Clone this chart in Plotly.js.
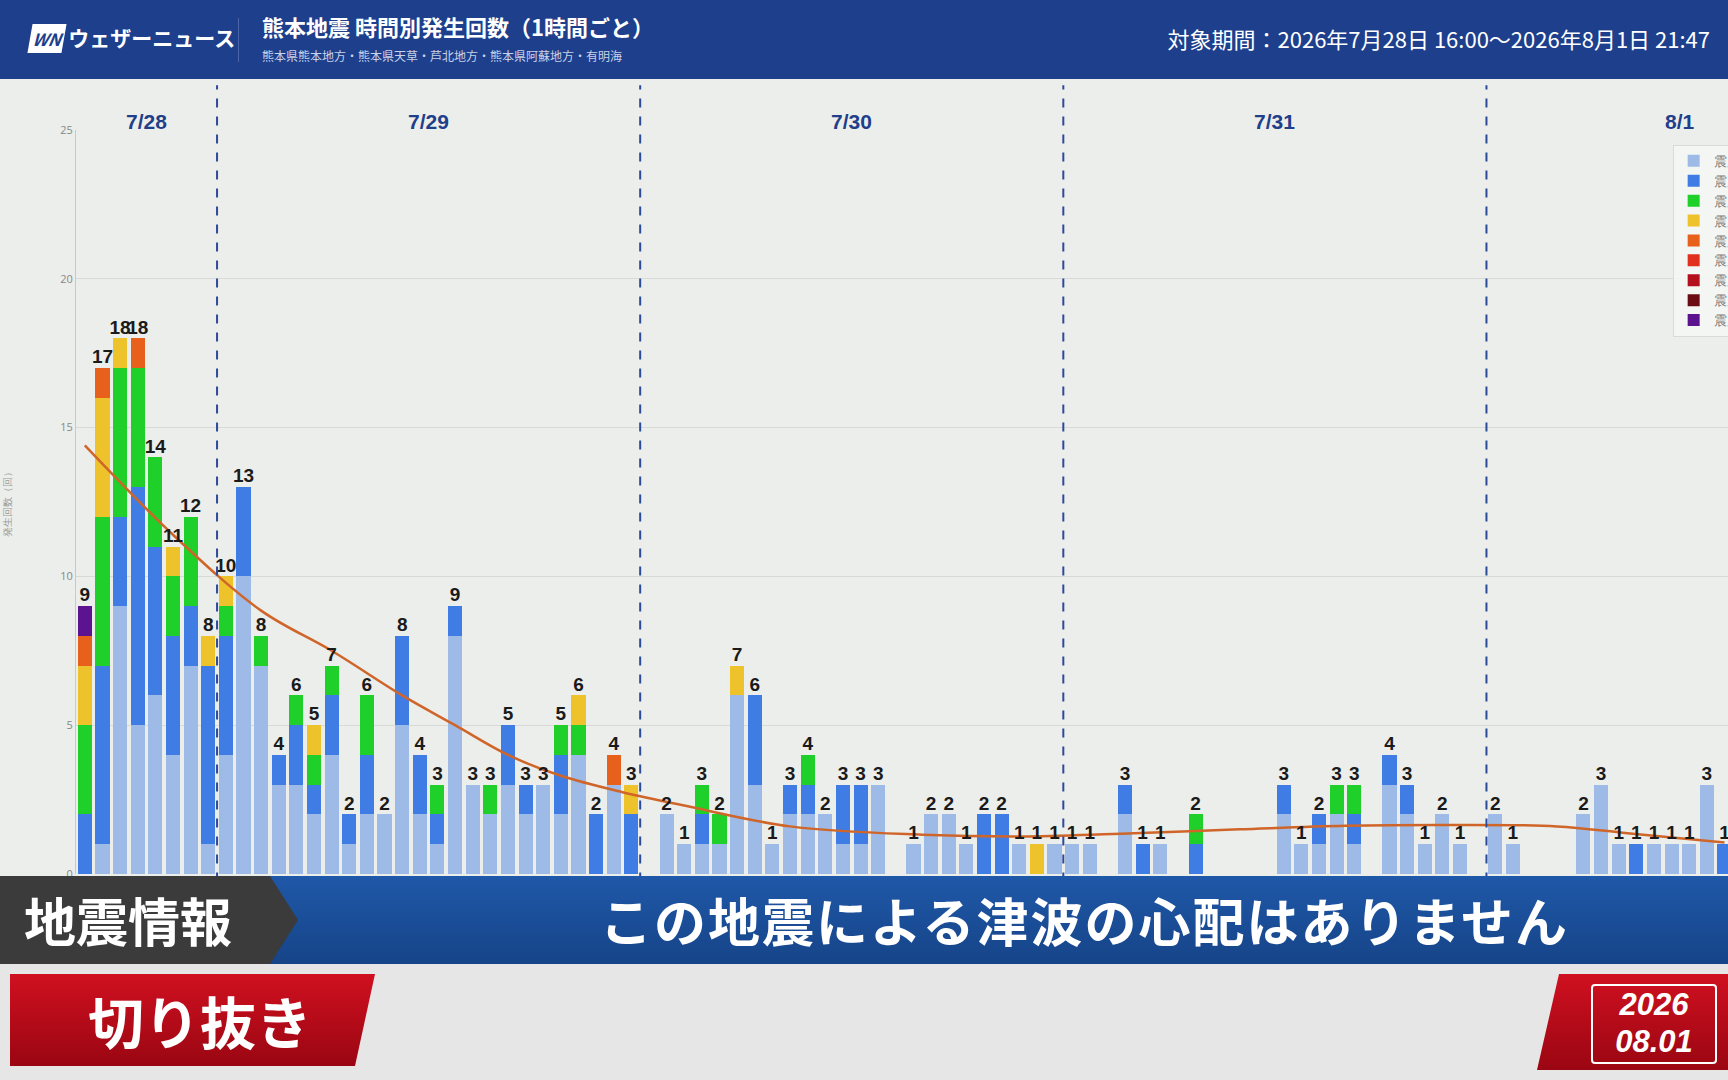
<!DOCTYPE html>
<html>
<head>
<meta charset="utf-8">
<script src="https://cdn.plot.ly/plotly-3.0.1.min.js"></script>
<style>
  body { margin: 0; width: 1728px; height: 1080px; overflow: hidden; background: #eceeeb; font-family: "Noto Sans CJK JP", "Noto Sans", sans-serif; position: relative; }
  #graph { position: absolute; left: 0; top: 0; width: 1800px; height: 1080px; }
  .header { position: absolute; left: 0; top: 0; width: 1728px; height: 79px; background: #1d3f8c; color: #fff; z-index: 5; }
  .logo { position: absolute; left: 30px; top: 22px; font-weight: 700; font-size: 21px; }
  .logo span { display: inline-block; background: #fff; color: #1d3f8c; font-style: italic; font-size: 17px; padding: 2px 3px; margin-right: 4px; transform: skewX(-10deg); }
  .sep { position: absolute; left: 238px; top: 18px; width: 1px; height: 44px; background: #4a66a8; }
  .title { position: absolute; left: 262px; top: 10px; font-weight: 700; font-size: 22px; }
  .sub { position: absolute; left: 262px; top: 47px; font-size: 12px; color: #c8d2ea; }
  .period { position: absolute; right: 18px; top: 22px; font-size: 22px; }
  .band1 { position: absolute; left: 0; top: 876px; width: 1728px; height: 88px; background: linear-gradient(#1f58a8, #164488); z-index: 5; }
  .tag1 { position: absolute; left: 0; top: 0; width: 298px; height: 88px; background: #3b3b3b; clip-path: polygon(0 0, 270px 0, 298px 44px, 270px 88px, 0 88px); color: #fff; font-weight: 700; font-size: 52px; line-height: 88px; padding-left: 24px; box-sizing: border-box; }
  .msg { position: absolute; left: 600px; top: 0; color: #fff; font-weight: 700; font-size: 52px; line-height: 88px; letter-spacing: 2px; }
  .band2 { position: absolute; left: 0; top: 964px; width: 1728px; height: 116px; background: #e6e6e6; z-index: 5; }
  .tag2 { position: absolute; left: 10px; top: 10px; width: 365px; height: 92px; background: linear-gradient(#d01020, #9a0612); clip-path: polygon(0 0, 365px 0, 345px 92px, 0 92px); color: #fff; font-weight: 700; font-size: 56px; line-height: 92px; padding-left: 78px; box-sizing: border-box; }
  .datebox { position: absolute; left: 1537px; top: 10px; width: 191px; height: 96px; background: linear-gradient(#d01020, #9a0612); clip-path: polygon(22px 0, 191px 0, 191px 96px, 0 96px); }
  .date { position: absolute; left: 54px; top: 10px; width: 122px; height: 76px; border: 2px solid #fff; border-radius: 4px; color: #fff; font-weight: 700; font-style: italic; text-align: center; font-size: 31px; line-height: 37px; font-family: "Liberation Sans", sans-serif; }
</style>
</head>
<body>
<div id="graph"></div>
<div class="header">
  <div class="logo"><span>WN</span>ウェザーニュース</div>
  <div class="sep"></div>
  <div class="title">熊本地震 時間別発生回数（1時間ごと）</div>
  <div class="sub">熊本県熊本地方・熊本県天草・芦北地方・熊本県阿蘇地方・有明海</div>
  <div class="period">対象期間：2026年7月28日 16:00〜2026年8月1日 21:47</div>
</div>
<div class="band1">
  <div class="tag1">地震情報</div>
  <div class="msg">この地震による津波の心配はありません</div>
</div>
<div class="band2">
  <div class="tag2">切り抜き</div>
  <div class="datebox"><div class="date">2026<br>08.01</div></div>
</div>
<script>
// hourly counts from 7/28 16:00, one value per hour
const shindo1 = [0,1,9,5,6,4,7,1,
  4,10,7,3,3,2,4,1,2,2,5,2,1,8,3,2,3,2,3,2,4,0,3,0,
  0,2,1,1,1,6,3,1,2,2,2,1,1,3,0,1,2,2,1,0,0,1,0,1,
  1,1,0,2,0,1,0,0,0,0,0,0,2,1,1,2,1,0,3,2,1,2,1,0,
  2,1,0,0,0,2,3,1,0,1,1,1,3,0];
const shindo2 = [2,6,3,8,5,4,2,6,
  4,3,0,1,2,1,2,1,2,0,3,2,1,1,0,0,2,1,0,2,0,2,0,2,
  0,0,0,1,0,0,3,0,1,1,0,2,2,0,0,0,0,0,0,2,2,0,0,0,
  0,0,0,1,1,0,0,1,0,0,0,0,1,0,1,0,1,0,1,1,0,0,0,0,
  0,0,0,0,0,0,0,0,1,0,0,0,0,1];
const shindo3 = [3,5,5,4,3,2,3,0,
  1,0,1,0,1,1,1,0,2,0,0,0,1,0,0,1,0,0,0,1,1,0,0,0,
  0,0,0,1,1,0,0,0,0,1,0,0,0,0,0,0,0,0,0,0,0,0,0,0,
  0,0,0,0,0,0,0,1,0,0,0,0,0,0,0,1,1,0,0,0,0,0,0,0,
  0,0,0,0,0,0,0,0,0,0,0,0,0,0];
const shindo4 = [2,4,1,0,0,1,0,1,
  1,0,0,0,0,1,0,0,0,0,0,0,0,0,0,0,0,0,0,0,1,0,0,1,
  0,0,0,0,0,1,0,0,0,0,0,0,0,0,0,0,0,0,0,0,0,0,1,0,
  0,0,0,0,0,0,0,0,0,0,0,0,0,0,0,0,0,0,0,0,0,0,0,0,
  0,0,0,0,0,0,0,0,0,0,0,0,0,0];
const shindo5l = [1,1,0,1,0,0,0,0,
  0,0,0,0,0,0,0,0,0,0,0,0,0,0,0,0,0,0,0,0,0,0,1,0,
  0,0,0,0,0,0,0,0,0,0,0,0,0,0,0,0,0,0,0,0,0,0,0,0,
  0,0,0,0,0,0,0,0,0,0,0,0,0,0,0,0,0,0,0,0,0,0,0,0,
  0,0,0,0,0,0,0,0,0,0,0,0,0,0];
const zeros = new Array(94).fill(0);
const shindo5u = zeros, shindo6l = zeros, shindo6u = zeros;
const shindo7 = [1].concat(new Array(93).fill(0));

const seriesNames = ["震度1","震度2","震度3","震度4","震度5弱","震度5強","震度6弱","震度6強","震度7"];
const seriesColors = ["#9dbbe6","#3f7de4","#1fd02a","#eec22a","#e8611c","#e2301f","#b40f1c","#6b0b12","#5b1390"];
const seriesData = [shindo1,shindo2,shindo3,shindo4,shindo5l,shindo5u,shindo6l,shindo6u,shindo7];

// trend curve (hour, count)
const trendX = [0.5,5.5,10.5,14.5,18.5,21.5,24.5,27.5,31,34.5,40.5,48,54,60,66,72,78,84,88,93.5];
const trendY = [14.4,11.4,8.85,7.5,6.0,5.0,4.0,3.3,2.75,2.3,1.6,1.32,1.26,1.37,1.5,1.62,1.65,1.6,1.37,1.06];

const dayStarts = [8,32,56,80];
const dayLabels = ["7/28","7/29","7/30","7/31","8/1"];
const dayLabelPos = [4,20,44,68,91];

const hours = shindo1.map((_, i) => i + 0.5);
const totals = hours.map((_, i) => seriesData.reduce((s, arr) => s + arr[i], 0));

const traces = seriesData.map((arr, k) => ({
  type: "bar", x: hours, y: arr, name: seriesNames[k],
  marker: { color: seriesColors[k] }, hoverinfo: "skip"
}));
traces.push({
  type: "scatter", mode: "lines", x: trendX, y: trendY, showlegend: false,
  line: { color: "#d0652a", width: 2.5, shape: "spline" }, hoverinfo: "skip"
});
traces.push({
  type: "scatter", mode: "text", x: hours, y: totals, showlegend: false,
  text: totals.map(t => t > 0 ? "<b>" + t + "</b>" : ""),
  textposition: "top center", textfont: { size: 19, color: "#1a1a1a", family: "Liberation Sans, Arial" },
  hoverinfo: "skip", cliponaxis: false
});

const shapes = dayStarts.map(d => ({
  type: "line", xref: "x", yref: "paper", x0: d, x1: d, y0: -0.01, y1: 1.06,
  line: { color: "#2c4a9a", width: 2, dash: "dash" }
}));
const annotations = dayLabels.map((t, i) => ({
  xref: "x", yref: "paper", x: dayLabelPos[i], y: 1.03, text: "<b>" + t + "</b>",
  showarrow: false, font: { size: 21, color: "#1f3f8a", family: "Liberation Sans, Arial" }
}));

Plotly.newPlot("graph", traces, {
  width: 1800, height: 1080,
  paper_bgcolor: "#eceeeb", plot_bgcolor: "#eceeeb",
  margin: { l: 76, r: 72, t: 130, b: 206 },
  barmode: "stack", bargap: 0.2,
  xaxis: { range: [0, 93.7], showticklabels: false, showgrid: false, zeroline: false, showline: false },
  yaxis: {
    range: [0, 25], dtick: 5, gridcolor: "#d8dad7", zeroline: false,
    showline: true, linecolor: "#c8cac7", ticks: "",
    tickfont: { size: 11, color: "#888" },
    title: { text: "発生回数（回）", font: { size: 10, color: "#999" }, standoff: 46 }
  },
  legend: {
    x: 0.9665, y: 0.98, xanchor: "left", yanchor: "top", itemwidth: 30,
    bgcolor: "rgba(245,246,245,0.9)", bordercolor: "#dadada", borderwidth: 1,
    font: { size: 13, color: "#777" }, tracegroupgap: 0, traceorder: "normal"
  },
  shapes: shapes, annotations: annotations, showlegend: true
}, { staticPlot: true });
</script>
</body>
</html>
